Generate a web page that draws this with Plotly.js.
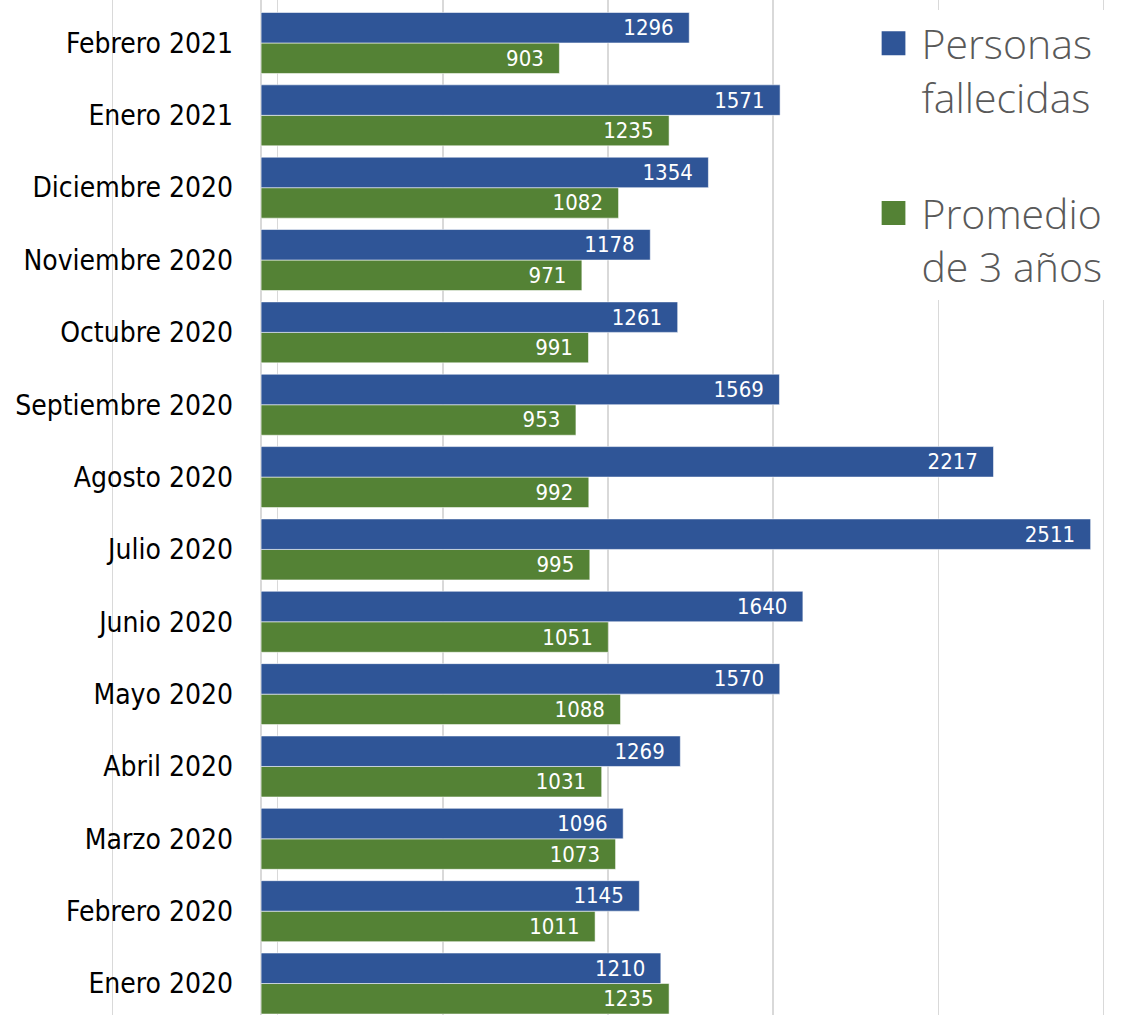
<!DOCTYPE html>
<html>
<head>
<meta charset="utf-8">
<script src="https://cdn.plot.ly/plotly-3.0.1.min.js"></script>
<style>html,body{margin:0;padding:0;background:#fff;}#chart{width:1130px;height:1015px;}</style>
</head>
<body>
<div id="chart"></div>
<script>
const categories = ["Enero 2020","Febrero 2020","Marzo 2020","Abril 2020","Mayo 2020","Junio 2020","Julio 2020","Agosto 2020","Septiembre 2020","Octubre 2020","Noviembre 2020","Diciembre 2020","Enero 2021","Febrero 2021"];
const fallecidas = [1210,1145,1096,1269,1570,1640,2511,2217,1569,1261,1178,1354,1571,1296];
const promedio3 = [1235,1011,1073,1031,1088,1051,995,992,953,991,971,1082,1235,903];
const seriesNames = ["Personas<br>fallecidas","Promedio<br>de 3 años"];

const labelFont = {family:"DejaVu Sans Condensed", size:22, color:"#ffffff"};
const pad = "\u00a0\u00a0";

const traces = [
  {
    type:"bar", orientation:"h", name:seriesNames[1], legendgroup:"b", legendrank:2,
    y:categories, x:promedio3, text:promedio3.map(String),
    texttemplate:"%{text}"+pad, textposition:"inside", insidetextanchor:"end",
    textangle:0, textfont:labelFont, constraintext:"none",
    marker:{color:"#548235", line:{color:"rgba(255,255,255,0.55)", width:1}},
    hoverinfo:"x+y"
  },
  {
    type:"bar", orientation:"h", name:seriesNames[0], legendgroup:"a", legendrank:1,
    y:categories, x:fallecidas, text:fallecidas.map(String),
    texttemplate:"%{text}"+pad, textposition:"inside", insidetextanchor:"end",
    textangle:0, textfont:labelFont, constraintext:"none",
    marker:{color:"#2F5597", line:{color:"rgba(255,255,255,0.55)", width:1}},
    hoverinfo:"x+y"
  }
];

const layout = {
  width:1130, height:1015,
  margin:{l:0,r:0,t:0,b:0,pad:0},
  paper_bgcolor:"#ffffff", plot_bgcolor:"#ffffff",
  barmode:"group", bargap:0.157, bargroupgap:0,
  showlegend:true,
  xaxis:{
    range:[-790.3, 2630.1], tick0:50, dtick:500, showticklabels:false,
    showgrid:true, gridcolor:"#d9d9d9", gridwidth:1.5,
    zeroline:true, zerolinecolor:"#d9d9d9", zerolinewidth:1.5,
    showline:false, ticks:"", fixedrange:true
  },
  yaxis:{
    type:"category", categoryorder:"array", categoryarray:categories,
    range:[-0.435, 13.594], anchor:"free", position:0.2062,
    showgrid:false, zeroline:false, showline:false, ticks:"",
    tickfont:{family:"DejaVu Sans Condensed", size:28, color:"#000000"},
    automargin:false, fixedrange:true
  },
  legend:{
    x:0.780, y:0.990, xanchor:"left", yanchor:"top",
    bgcolor:"#ffffff", borderwidth:0,
    font:{family:"Open Sans", size:41, color:"#595959", weight:300},
    valign:"top", tracegroupgap:60, traceorder:"grouped",
    itemclick:false, itemdoubleclick:false
  }
};

Plotly.newPlot("chart", traces, layout, {displayModeBar:false, staticPlot:true}).then(function(gd){
  gd.querySelectorAll(".legend .legendpoints path").forEach(function(p){
    p.removeAttribute("transform");
    p.setAttribute("d","M24,12H0V-12H24Z");
    p.style.strokeWidth = "0px";
  });
});
</script>
</body>
</html>
